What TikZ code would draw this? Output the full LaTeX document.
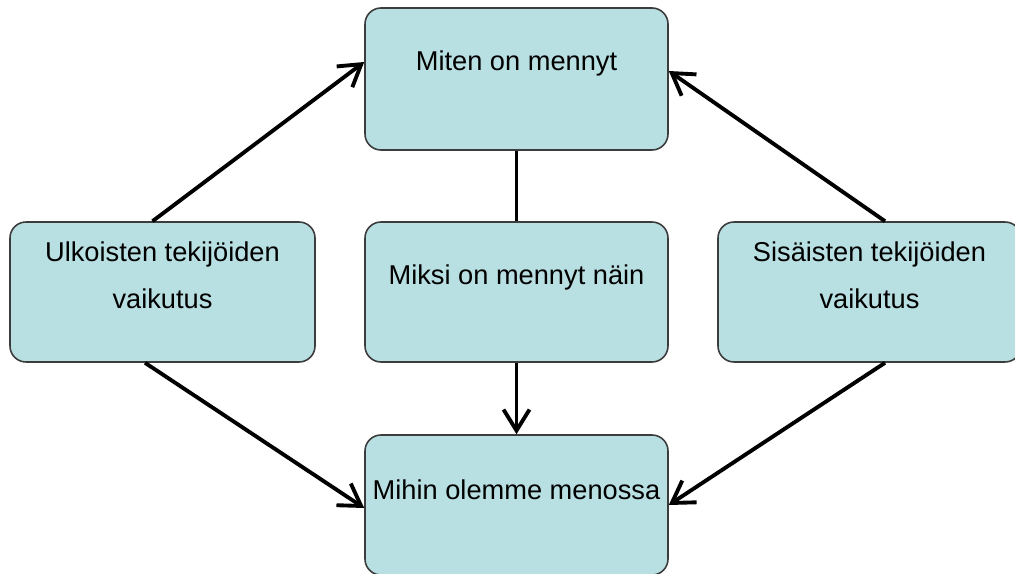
\documentclass[tikz,border=0pt]{standalone}
\usepackage{fontspec}
\setmainfont{Liberation Sans}
\usetikzlibrary{arrows.meta}
\definecolor{boxfill}{RGB}{184,223,226}
\definecolor{boxline}{RGB}{60,60,60}
\begin{document}
\begin{tikzpicture}[x=1cm,y=1cm,
  box/.style={draw=boxline,line width=0.9pt,fill=boxfill,rounded corners=0.32cm,
    minimum width=6.06cm,minimum height=2.8cm},
  txt/.style={align=center,font=\fontsize{15.5}{27}\selectfont},
  arr/.style={line width=2.2pt,-{Straight Barb[length=0.42cm,width=0.52cm]}}]
\useasboundingbox (0,0) rectangle (20.3,11.46);

\node[box,minimum height=2.84cm] (top) at (10.33,9.88) {};
\node[box,minimum width=6.1cm] (left) at (3.25,5.62) {};
\node[box] (mid) at (10.33,5.62) {};
\node[box] (right) at (17.39,5.62) {};
\node[box] (bot) at (10.33,1.36) {};

\node[txt] (toptxt) at ([yshift=-1.12cm]top.north) {Miten on mennyt};
\node[txt] (lefttxt) at ([yshift=-1.08cm]left.north) {Ulkoisten tekijöiden\\vaikutus};
\node[txt] (midtxt) at ([yshift=-1.12cm]mid.north) {Miksi on mennyt näin};
\node[txt] (righttxt) at ([yshift=-1.08cm]right.north) {Sisäisten tekijöiden\\vaikutus};
\node[txt] (bottxt) at ([yshift=-1.12cm]bot.north) {Mihin olemme menossa};

\draw[arr] ([xshift=-0.2cm]left.north) -- ([yshift=0.34cm]top.west);
\draw[arr] ([xshift=0.31cm]right.north) -- ([yshift=0.16cm]top.east);
\draw[line width=2.2pt] (top.south) -- (mid.north);
\draw[arr] (mid.south) -- (bot.north);
\draw[arr] ([xshift=-0.35cm]left.south) -- ([yshift=-0.06cm]bot.west);
\draw[arr] ([xshift=0.31cm]right.south) -- (bot.east);
\end{tikzpicture}
\end{document}
